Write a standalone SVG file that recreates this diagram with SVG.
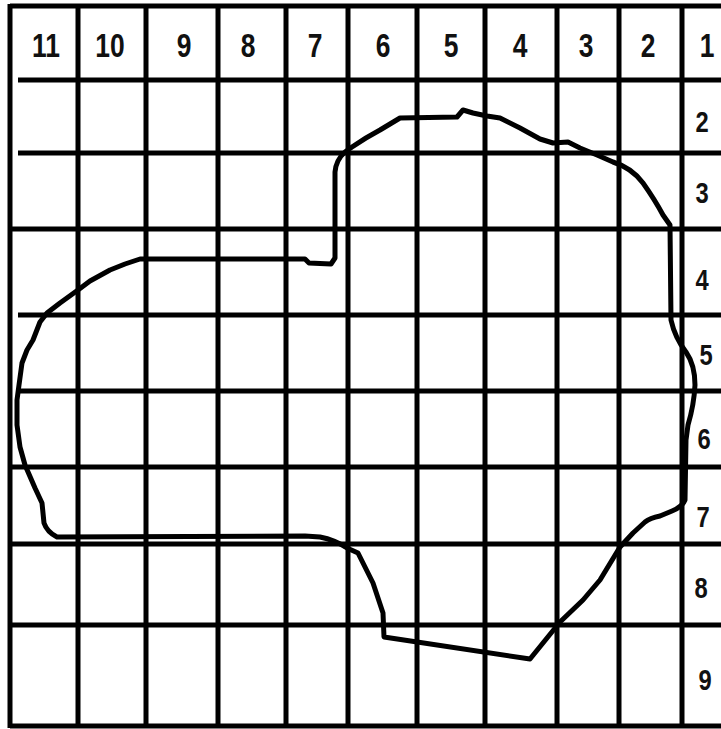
<svg xmlns="http://www.w3.org/2000/svg" width="721" height="729" viewBox="0 0 721 729">
<style>
.g{stroke:#000;stroke-width:5;fill:none;stroke-linecap:butt}
.s{stroke:#000;stroke-width:5;fill:none;stroke-linejoin:round;stroke-linecap:round}
.h{font-family:"Liberation Sans",Arial,sans-serif;font-weight:bold;font-size:33px;fill:#111;text-anchor:middle}
.r{font-family:"Liberation Sans",Arial,sans-serif;font-weight:bold;font-size:29px;fill:#111;text-anchor:middle}
</style>
<rect width="721" height="729" fill="#fff"/>
<g id="grid" class="g">
<line x1="10" y1="6" x2="721" y2="6"/>
<line x1="10" y1="726" x2="721" y2="726"/>
<line x1="10" y1="4" x2="10" y2="728"/>
<line x1="78" y1="6" x2="78" y2="726"/>
<line x1="146" y1="6" x2="146" y2="726"/>
<line x1="218" y1="6" x2="218" y2="726"/>
<line x1="286" y1="6" x2="286" y2="726"/>
<line x1="348" y1="6" x2="348" y2="726"/>
<line x1="417" y1="6" x2="417" y2="726"/>
<line x1="485" y1="6" x2="485" y2="726"/>
<line x1="557" y1="6" x2="557" y2="726"/>
<line x1="619" y1="6" x2="619" y2="726"/>
<line x1="682" y1="6" x2="682" y2="726"/>
<line x1="18" y1="80" x2="721" y2="80"/>
<line x1="18" y1="153" x2="721" y2="153"/>
<line x1="10" y1="229" x2="721" y2="229"/>
<line x1="18" y1="315" x2="721" y2="315"/>
<line x1="18" y1="391" x2="721" y2="391"/>
<line x1="10" y1="467" x2="721" y2="467"/>
<line x1="10" y1="544" x2="721" y2="544"/>
<line x1="10" y1="625" x2="721" y2="625"/>
</g>
<g id="column-labels" class="h">
<text transform="translate(46,57) scale(0.8,1)">11</text>
<text transform="translate(110,57) scale(0.8,1)">10</text>
<text transform="translate(184,57) scale(0.8,1)">9</text>
<text transform="translate(248,57) scale(0.8,1)">8</text>
<text transform="translate(315,57) scale(0.8,1)">7</text>
<text transform="translate(383,57) scale(0.8,1)">6</text>
<text transform="translate(451,57) scale(0.8,1)">5</text>
<text transform="translate(520,57) scale(0.8,1)">4</text>
<text transform="translate(586,57) scale(0.8,1)">3</text>
<text transform="translate(648,57) scale(0.8,1)">2</text>
<text transform="translate(707,57) scale(0.8,1)">1</text>
</g>
<g id="row-labels" class="r">
<text transform="translate(702,132) scale(0.82,1)">2</text>
<text transform="translate(702,203) scale(0.82,1)">3</text>
<text transform="translate(702,290) scale(0.82,1)">4</text>
<text transform="translate(706,365) scale(0.82,1)">5</text>
<text transform="translate(704,449) scale(0.82,1)">6</text>
<text transform="translate(703,527) scale(0.82,1)">7</text>
<text transform="translate(701,598) scale(0.82,1)">8</text>
<text transform="translate(705,690) scale(0.82,1)">9</text>
</g>
<g id="outline">
<path class="s" d="M335,258 L335,172 Q336,160 345,152 L352,147 Q365,138 380,130 L400,118 L457,117 L463,110 L473,113 L487,116 L500,118 L520,128 L540,139 L553,143 L568,142 L580,148 L597,155 L613,162 Q632,168 643,183 Q655,200 663,215 L670,225 L671,320 Q675,338 686,352 Q695,365 695,385 Q694,405 688,425 L686,440 L685,500 Q682,507 672,511 L660,516 Q650,518 645,522 L633,533 L620,547 L600,580 L583,600 L560,622 L530,659 L384,637 L383,613 L373,583 L358,553 L347,548 Q335,540 320,537 L305,536 L57,537 Q47,532 44,523 L42,503 L35,488 L25,465 L20,447 L17,425 L17,400 L19,385 L22,363 L27,350 L33,340 L40,322 L47,313 L60,303 L78,290 L90,281 L110,270 L125,264 L140,259 L305,259 L309,263 L331,264 Z"/>
</g>
</svg>
